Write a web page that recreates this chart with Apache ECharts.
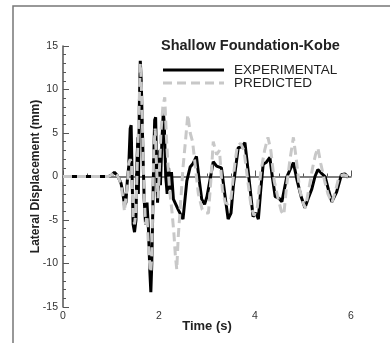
<!DOCTYPE html>
<html>
<head>
<meta charset="utf-8">
<script src="https://cdn.jsdelivr.net/npm/echarts@6/dist/echarts.min.js"></script>
<style>html,body{margin:0;padding:0;background:#fff;}#c{width:390px;height:343px;}</style>
</head>
<body>
<div id="c"></div>
<script>
var titleText = 'Shallow Foundation-Kobe';
var seriesNames = ['EXPERIMENTAL', 'PREDICTED'];
var xTicks = [0, 2, 4, 6];
var yTicks = [-15, -10, -5, 0, 5, 10, 15];

var expTime = [0,0.4,0.8,0.95,1.02,1.07,1.12,1.17,1.21,1.25,1.28,1.31,1.34,1.37,1.40,1.42,1.44,1.46,1.49,1.52,1.54,1.56,1.57,1.59,1.61,1.63,1.66,1.69,1.72,1.75,1.78,1.81,1.83,1.85,1.87,1.89,1.91,1.93,1.95,1.97,1.99,2.01,2.03,2.06,2.09,2.11,2.14,2.17,2.2,2.23,2.26,2.3,2.4,2.5,2.58,2.65,2.71,2.78,2.84,2.89,2.95,3.0,3.06,3.13,3.2,3.3,3.37,3.44,3.5,3.55,3.65,3.72,3.79,3.85,3.91,3.96,4.02,4.07,4.12,4.17,4.23,4.31,4.36,4.42,4.5,4.56,4.66,4.73,4.8,4.88,4.96,5.04,5.11,5.18,5.25,5.31,5.38,5.46,5.53,5.6,5.7,5.8,5.87,5.94];
var expVal = [0,0,0,0,0.2,0.5,0.2,-0.3,-0.8,-2.0,-3.3,-3.0,-0.5,1.2,5.5,5.9,0,-5.5,-6.4,-5.0,1.5,4.5,-2,8,13.3,11,4,-2.5,-5.5,-3.0,-6.0,-11,-13.3,-10,-4,2,6.5,6.8,1,-3,0,3,-1,4,7.5,6,0,-2,1,-1.5,0.5,-2.6,-3.8,-4.9,-0.5,1.1,1.5,2.3,-0.5,-2.6,-3.2,-2.3,-0.5,1.7,1.2,1.0,-2,-4.9,-4.2,-1,3.3,3.4,3.9,1,-2,-4.6,-4.2,-4.9,-1.5,1.4,1.6,2.2,0,-2.3,-2.5,-2.9,-0.1,0.8,1.6,-0.5,-2.3,-3.6,-2.5,-1.5,0,0.8,0.4,0,-1.5,-2.9,-1.8,0.2,0.3,-0.1];

var predTime = [0,0.4,0.8,0.95,1.02,1.07,1.12,1.17,1.21,1.25,1.28,1.31,1.34,1.37,1.40,1.43,1.46,1.49,1.52,1.55,1.58,1.61,1.63,1.66,1.69,1.72,1.75,1.78,1.81,1.83,1.85,1.87,1.89,1.92,1.95,1.98,2.01,2.04,2.08,2.12,2.15,2.18,2.22,2.27,2.31,2.34,2.37,2.4,2.45,2.5,2.55,2.6,2.65,2.7,2.76,2.82,2.9,2.98,3.03,3.08,3.13,3.2,3.26,3.32,3.38,3.44,3.5,3.57,3.63,3.7,3.77,3.85,3.92,3.98,4.05,4.12,4.2,4.27,4.33,4.4,4.48,4.55,4.6,4.66,4.73,4.8,4.86,4.93,5.0,5.05,5.12,5.2,5.26,5.31,5.37,5.45,5.52,5.6,5.67,5.75,5.85,5.94];
var predVal = [0,0,0,0,0.2,0.5,0.2,-0.3,-1.0,-2.5,-4.0,-4.2,-1,1.5,2.0,1.5,-4.5,-5.5,-4,2,7,13.0,11,5,-2,-5.5,-4.5,-8,-10.5,-11,-9,-3,3,5.5,1,-2.5,1,5,8,9.1,5,2,-1.5,-4,-6.5,-9,-10.7,-7,-3,1,4,7.1,5,4,1,-2,-3.8,-4.2,-4.2,-0.5,4.0,2.5,3.0,-1.5,-3,-3.2,-2.5,1,3.5,3.8,3.0,-0.5,-3.5,-4.5,-3.5,0.5,3,4.5,3,-0.5,-2.5,-4.0,-4.4,-1,2,4.5,2,-1.5,-3.0,-3.6,-1.5,1,2.5,3.3,1.5,-0.5,-2,-3,-1.8,0,0.2,0];

function pairs(t, v) { return t.map(function (x, i) { return [x, v[i]]; }); }

var FONT = 'Liberation Sans, Arial, sans-serif';
var chart = echarts.init(document.getElementById('c'), null, {renderer: 'canvas'});
chart.setOption({
  backgroundColor: '#fff',
  animation: false,
  textStyle: {fontFamily: FONT},
  title: {
    text: titleText, left: 161, top: 38, padding: 0,
    textStyle: {fontSize: 14.5, fontWeight: 'bold', color: '#222', fontFamily: FONT}
  },
  grid: {left: 63, right: 39, top: 46, bottom: 36, containLabel: false},
  xAxis: {
    type: 'value', min: 0, max: 6, interval: 2,
    name: 'Time (s)', nameLocation: 'middle', nameGap: 13, nameMoveOverlap: false,
    nameTextStyle: {fontSize: 13, fontWeight: 'bold', color: '#222'},
    axisLine: {lineStyle: {color: '#555', width: 1.5}},
    axisTick: {inside: true, length: 6, lineStyle: {color: '#555'}},
    minorTick: {show: true, splitNumber: 4, length: 3, lineStyle: {color: '#555'}},
    axisLabel: {fontSize: 10.5, color: '#333', margin: 4},
    splitLine: {show: false}
  },
  yAxis: {
    type: 'value', min: -15, max: 15, interval: 5,
    name: 'Lateral Displacement (mm)', nameLocation: 'middle', nameGap: 21, nameRotate: 90, nameMoveOverlap: false,
    nameTextStyle: {fontSize: 12, fontWeight: 'bold', color: '#222'},
    axisLine: {show: true, lineStyle: {color: '#555', width: 1.5}},
    axisTick: {show: true, inside: true, length: 6, lineStyle: {color: '#555'}},
    minorTick: {show: true, splitNumber: 5, length: 3, lineStyle: {color: '#555'}},
    axisLabel: {fontSize: 10.5, color: '#333', margin: 5},
    splitLine: {show: false}
  },
  graphic: [{
    type: 'polyline', silent: true,
    shape: {points: [[13, 343], [13, 6], [390, 6]]},
    style: {stroke: '#777', lineWidth: 1.5, fill: null}
  }, {
    type: 'line', silent: true,
    shape: {x1: 163, y1: 70, x2: 224, y2: 70},
    style: {stroke: '#000', lineWidth: 3}
  }, {
    type: 'line', silent: true,
    shape: {x1: 163, y1: 83, x2: 224, y2: 83},
    style: {stroke: '#c8c8c8', lineWidth: 3, lineDash: [9, 5]}
  }, {
    type: 'text', silent: true, x: 234, y: 70,
    style: {text: seriesNames[0], fontSize: 13.5, fill: '#222', fontFamily: FONT, verticalAlign: 'middle'}
  }, {
    type: 'text', silent: true, x: 234, y: 83,
    style: {text: seriesNames[1], fontSize: 13.5, fill: '#222', fontFamily: FONT, verticalAlign: 'middle'}
  }],
  series: [{
    name: seriesNames[0], type: 'line', data: pairs(expTime, expVal),
    symbol: 'none', lineStyle: {color: '#000', width: 3}, itemStyle: {color: '#000'}, z: 2
  }, {
    name: seriesNames[1], type: 'line', data: pairs(predTime, predVal),
    symbol: 'none', lineStyle: {color: '#c8c8c8', width: 3, type: [9, 5]}, itemStyle: {color: '#c8c8c8'}, z: 3
  }]
});
</script>
</body>
</html>
